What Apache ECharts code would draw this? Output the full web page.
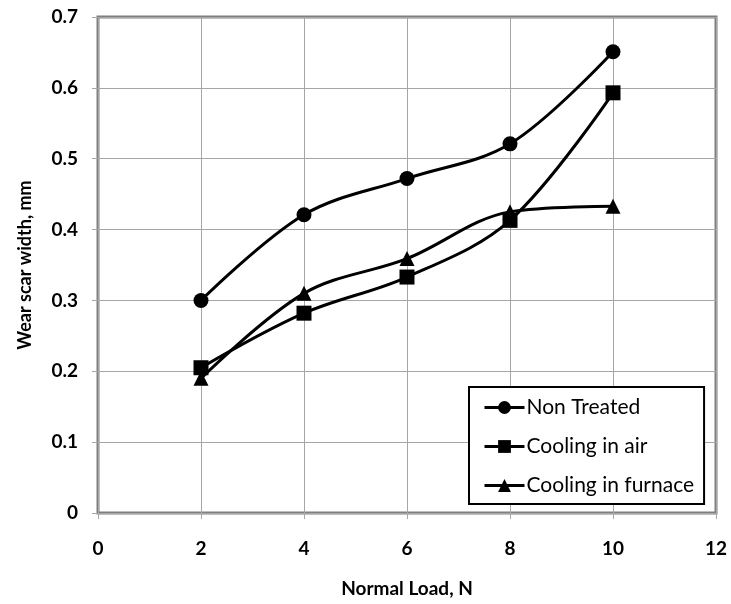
<!DOCTYPE html>
<html>
<head>
<meta charset="utf-8">
<script src="https://cdn.jsdelivr.net/npm/echarts@6/dist/echarts.min.js"></script>
<style>
  html, body { margin: 0; padding: 0; background: #fff; }
  #chart { width: 731px; height: 604px; }
</style>
</head>
<body>
<div id="chart"></div>
<script>
// normal load, N
const loads = [2, 4, 6, 8, 10];
// wear scar width, mm
const nonTreated = [0.30, 0.421, 0.472, 0.521, 0.651];
const coolingAir = [0.205, 0.282, 0.333, 0.413, 0.593];
const coolingFurnace = [0.19, 0.31, 0.359, 0.425, 0.433];

const fontFamily = "Lato, 'Open Sans', sans-serif";

function pairs(ys) {
  return loads.map((x, i) => [x, ys[i]]);
}

function makeSeries(name, ys, symbol, size) {
  return {
    name: name,
    type: "line",
    data: pairs(ys),
    smooth: 0.35,
    symbol: symbol,
    symbolSize: size,
    lineStyle: { color: "#000", width: 3 },
    itemStyle: { color: "#000" },
  };
}

const chart = echarts.init(document.getElementById("chart"));
chart.setOption({
  animation: false,
  grid: {
    left: 98,
    top: 17,
    width: 618,
    height: 496,
    show: true,
    borderColor: "#7f7f7f",
    borderWidth: 3,
  },
  xAxis: {
    type: "value",
    min: 0,
    max: 12,
    interval: 2,
    name: "Normal Load, N",
    nameLocation: "middle",
    nameGap: 66,
    nameTextStyle: { fontFamily, fontWeight: "bold", fontSize: 19, color: "#000" },
    axisLine: { show: false },
    axisTick: { show: true, length: 6, lineStyle: { color: "#a6a6a6" } },
    axisLabel: { margin: 26, fontFamily, fontWeight: "bold", fontSize: 19, color: "#000" },
    splitLine: { show: true, lineStyle: { color: "#a6a6a6", width: 1 } },
  },
  yAxis: {
    type: "value",
    min: 0,
    max: 0.7,
    interval: 0.1,
    name: "Wear scar width, mm",
    nameLocation: "middle",
    nameGap: 64,
    nameTextStyle: { fontFamily, fontWeight: "bold", fontSize: 18, color: "#000" },
    axisLine: { show: false },
    axisTick: { show: true, length: 6, lineStyle: { color: "#a6a6a6" } },
    axisLabel: {
      margin: 20,
      fontFamily, fontWeight: "bold", fontSize: 19, color: "#000",
      formatter: (v) => (v === 0 ? "0" : v.toFixed(1)),
    },
    splitLine: { show: true, lineStyle: { color: "#a6a6a6", width: 1 } },
  },
  legend: {
    orient: "vertical",
    left: 469,
    top: 387,
    width: 236,
    padding: [10, 10, 8, 14],
    itemGap: 18,
    itemWidth: 40,
    itemHeight: 16,
    backgroundColor: "#fff",
    borderColor: "#000",
    borderWidth: 2,
    borderRadius: 0,
    lineStyle: { width: 3, color: "#000" },
    textStyle: { fontFamily, fontSize: 21, color: "#000", padding: [0, 2, 0, -3] },
    data: ["Non Treated", "Cooling in air", "Cooling in furnace"],
  },
  series: [
    makeSeries("Non Treated", nonTreated, "circle", 15),
    makeSeries("Cooling in air", coolingAir, "rect", 15),
    makeSeries("Cooling in furnace", coolingFurnace, "triangle", 15),
  ],
});
</script>
</body>
</html>
